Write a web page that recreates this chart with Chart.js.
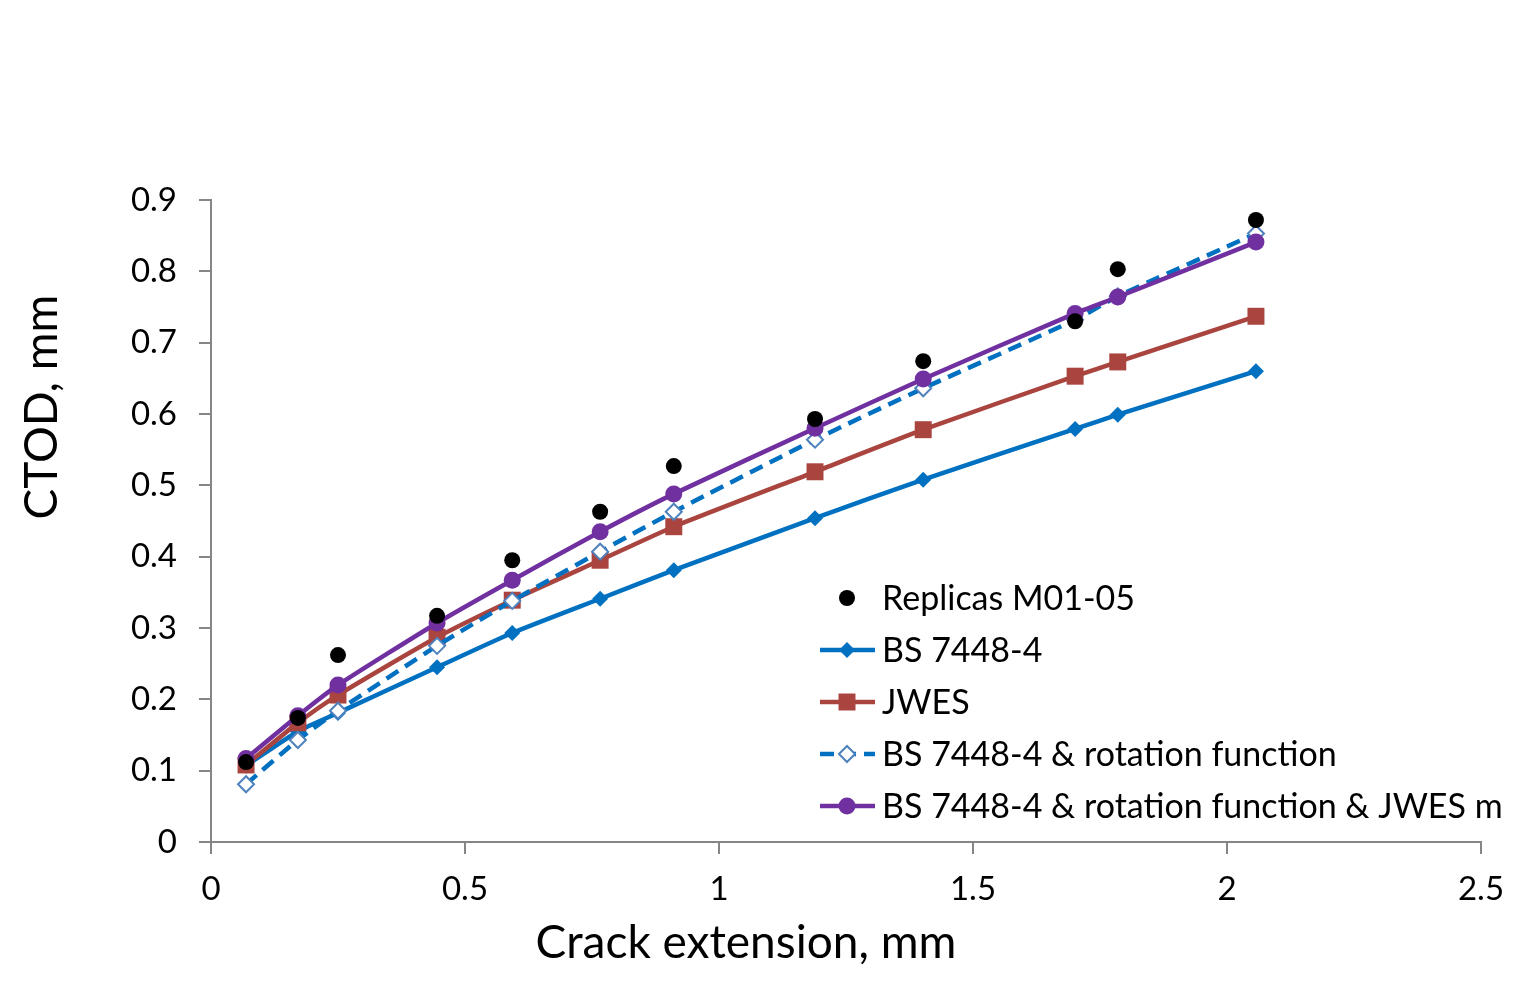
<!DOCTYPE html>
<html>
<head>
<meta charset="utf-8">
<script src="https://cdn.jsdelivr.net/npm/chart.js@4"></script>
<style>
  html, body { margin: 0; padding: 0; background: #fff; }
  #wrap { width: 1523px; height: 993px; }
</style>
</head>
<body>
<div id="wrap"><canvas id="chart" width="1523" height="993"></canvas></div>
<script>
// Données
const crackExt = [0.069, 0.171, 0.25, 0.445, 0.593, 0.766, 0.911, 1.189, 1.402, 1.701, 1.785, 2.057]
const replicas = [0.112, 0.174, 0.262, 0.317, 0.395, 0.463, 0.527, 0.593, 0.674, 0.730, 0.803, 0.872]
const bs7448 = [0.107, 0.155, 0.181, 0.245, 0.293, 0.341, 0.381, 0.454, 0.508, 0.579, 0.599, 0.660]
const jwes = [0.108, 0.167, 0.206, 0.287, 0.339, 0.395, 0.442, 0.519, 0.578, 0.653, 0.673, 0.737]
const bsRotation = [0.081, 0.143, 0.184, 0.275, 0.338, 0.407, 0.463, 0.564, 0.636, 0.732, 0.765, 0.853]
const bsRotJwes = [0.117, 0.177, 0.220, 0.307, 0.367, 0.435, 0.488, 0.580, 0.649, 0.741, 0.764, 0.841]
const seriesNames = ["Replicas M01-05", "BS 7448-4", "JWES", "BS 7448-4 & rotation function", "BS 7448-4 & rotation function & JWES m"]
const xTicks = [0, 0.5, 1, 1.5, 2, 2.5]
const yTicks = [0, 0.1, 0.2, 0.3, 0.4, 0.5, 0.6, 0.7, 0.8, 0.9]

const FONT = "Lato, 'Open Sans', sans-serif"

function toPoints(ys) {
  return ys.map((y, i) => ({ x: crackExt[i], y: y }))
}

// Légende et titres des axes dessinés sur le canvas
const extras = {
  id: "extras",
  afterDraw(chart) {
    const ctx = chart.ctx
    ctx.save()
    ctx.fillStyle = "#000"
    ctx.font = "46px " + FONT
    ctx.textAlign = "center"
    ctx.textBaseline = "middle"
    ctx.fillText("Crack extension, mm", 746, 943)
    ctx.translate(42, 407)
    ctx.rotate(-Math.PI / 2)
    ctx.fillText("CTOD, mm", 0, 0)
    ctx.restore()

    ctx.save()
    ctx.font = "34px " + FONT
    ctx.textBaseline = "middle"
    ctx.textAlign = "left"
    chart.data.datasets.forEach((ds, i) => {
      const y = 598 + i * 52
      if (ds.showLine !== false) {
        ctx.strokeStyle = ds.borderColor
        ctx.lineWidth = ds.borderWidth
        ctx.setLineDash(ds.borderDash || [])
        ctx.beginPath()
        ctx.moveTo(820, y)
        ctx.lineTo(875, y)
        ctx.stroke()
        ctx.setLineDash([])
      }
      ctx.fillStyle = ds.pointBackgroundColor
      ctx.strokeStyle = ds.pointBorderColor
      ctx.lineWidth = ds.pointBorderWidth
      Chart.helpers.drawPoint(ctx, { pointStyle: ds.pointStyle, radius: ds.pointRadius, rotation: 0, borderWidth: ds.pointBorderWidth }, 847, y)
      ctx.fillStyle = "#000"
      ctx.fillText(seriesNames[i], 882, y + 1)
    })
    ctx.restore()
  },
}

new Chart(document.getElementById("chart"), {
  type: "scatter",
  data: {
    datasets: [
      {
        label: seriesNames[0],
        data: toPoints(replicas),
        showLine: false,
        pointStyle: "circle",
        pointRadius: 8,
        pointBackgroundColor: "#000000",
        pointBorderColor: "#000000",
        pointBorderWidth: 0,
        order: 0,
      },
      {
        label: seriesNames[1],
        data: toPoints(bs7448),
        showLine: true,
        borderColor: "#0070C0",
        borderWidth: 4.5,
        tension: 0.2,
        pointStyle: "rectRot",
        pointRadius: 8,
        pointBackgroundColor: "#0070C0",
        pointBorderColor: "#0070C0",
        pointBorderWidth: 0,
        order: 4,
      },
      {
        label: seriesNames[2],
        data: toPoints(jwes),
        showLine: true,
        borderColor: "#A9443F",
        borderWidth: 4.5,
        tension: 0.2,
        pointStyle: "rect",
        pointRadius: 12,
        pointBackgroundColor: "#A9443F",
        pointBorderColor: "#A9443F",
        pointBorderWidth: 0,
        order: 3,
      },
      {
        label: seriesNames[3],
        data: toPoints(bsRotation),
        showLine: true,
        borderColor: "#0070C0",
        borderWidth: 4.5,
        borderDash: [14, 8],
        tension: 0.2,
        pointStyle: "rectRot",
        pointRadius: 8,
        pointBackgroundColor: "#FFFFFF",
        pointBorderColor: "#4F81BD",
        pointBorderWidth: 2,
        order: 2,
      },
      {
        label: seriesNames[4],
        data: toPoints(bsRotJwes),
        showLine: true,
        borderColor: "#7030A0",
        borderWidth: 4.5,
        tension: 0.2,
        pointStyle: "circle",
        pointRadius: 8.5,
        pointBackgroundColor: "#7030A0",
        pointBorderColor: "#7030A0",
        pointBorderWidth: 0,
        order: 1,
      },
    ],
  },
  options: {
    responsive: false,
    animation: false,
    devicePixelRatio: 1,
    layout: { padding: { left: 0, right: 42, top: 200, bottom: 0 } },
    plugins: { legend: { display: false }, tooltip: { enabled: false } },
    scales: {
      x: {
        type: "linear",
        min: 0,
        max: 2.5,
        afterBuildTicks: (scale) => { scale.ticks = xTicks.map((v) => ({ value: v })) },
        afterFit: (scale) => { scale.height = 151 },
        ticks: {
          color: "#000",
          font: { family: FONT, size: 33 },
          padding: 16,
          maxRotation: 0,
          callback: (v) => String(v),
        },
        grid: { drawOnChartArea: false, drawTicks: true, tickLength: 12, color: "#868686", lineWidth: 2 },
        border: { display: true, color: "#868686", width: 2 },
      },
      y: {
        type: "linear",
        min: 0,
        max: 0.9,
        afterBuildTicks: (scale) => { scale.ticks = yTicks.map((v) => ({ value: v })) },
        afterFit: (scale) => { scale.width = 211 },
        ticks: {
          color: "#000",
          font: { family: FONT, size: 33 },
          padding: 22,
          callback: (v) => String(v),
        },
        grid: { drawOnChartArea: false, drawTicks: true, tickLength: 12, color: "#868686", lineWidth: 2 },
        border: { display: true, color: "#868686", width: 2 },
      },
    },
  },
  plugins: [extras],
})
</script>
</body>
</html>
